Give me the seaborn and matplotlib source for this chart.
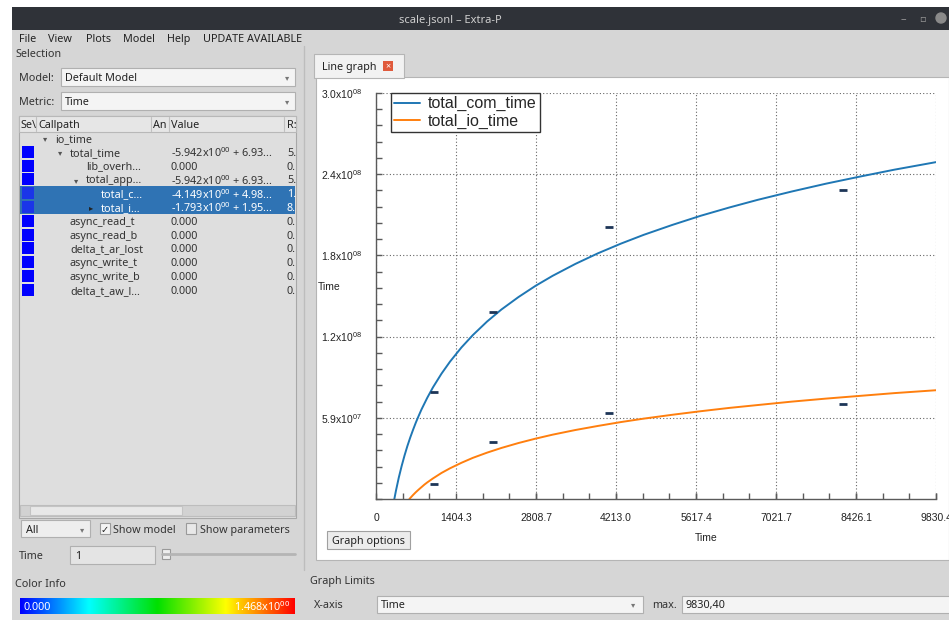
import numpy as np
import pandas as pd
import seaborn as sns
import matplotlib.pyplot as plt
from matplotlib.patches import Rectangle
from matplotlib.ticker import AutoMinorLocator
from matplotlib.colors import LinearSegmentedColormap

# model curves (time values in units of 1e6)
com_x = [322, 350, 400, 450, 500, 550, 600, 650, 700, 750, 800, 900, 1000, 1150,
         1300, 1500, 1700, 1950, 2200, 2500, 2800, 3100, 3500, 3900, 4300, 4700,
         5200, 5700, 6200, 6700, 7300, 7900, 8500, 9100, 9830.4]
com_y = [0, 6.0, 15.6, 24.0, 31.6, 38.5, 44.7, 50.4, 55.8, 60.7, 65.4, 73.8, 81.4, 91.4,
         100.2, 110.5, 119.5, 129.4, 138.1, 147.2, 155.4, 162.7, 171.4, 179.2, 186.2, 192.6,
         199.8, 206.5, 212.5, 218.1, 224.2, 229.9, 235.1, 240.1, 245.6]
io_x = [586, 650, 700, 750, 850, 900, 1000, 1150, 1300, 1500, 1700, 1950, 2200, 2500,
        2800, 3100, 3500, 3900, 4300, 4700, 5200, 5700, 6200, 6700, 7300, 7900,
        8500, 9100, 9830.4]
io_y = [0, 2.9, 5.0, 6.9, 10.5, 12.1, 15.0, 19.0, 22.4, 26.4, 30.0, 33.8, 37.2, 40.8,
        44.0, 46.9, 50.3, 53.3, 56.1, 58.6, 61.4, 64.0, 66.4, 68.5, 71.0, 73.2,
        75.2, 77.2, 79.3]

# measured points (the little dashes)
meas_x = [1024, 2048, 4096, 8192]
meas_com = [78, 136, 198, 225]
meas_io = [11, 41.5, 62.7, 69.3]

# axis ticks as the tool prints them
x_ticks = [0, 1404.3, 2808.7, 4213.0, 5617.4, 7021.7, 8426.1, 9830.4]
x_tick_labels = ['0', '1404.3', '2808.7', '4213.0', '5617.4', '7021.7', '8426.1', '9830.4']
y_max = 296e6
y_ticks = [59.2e6, 118.4e6, 177.6e6, 236.8e6, 296e6]
y_tick_labels = ['5.9x10$^{07}$', '1.2x10$^{08}$', '1.8x10$^{08}$', '2.4x10$^{08}$', '3.0x10$^{08}$']

# tree rows in the Selection panel: (indent x, name, value, last column, arrow)
tree_rows = [
    (55, 'io_time', '', '', 'down'),
    (70, 'total_time', '-5.942x10$^{00}$ + 6.93...', '5.', 'down'),
    (86, 'lib_overh...', '0.000', '0.', ''),
    (86, 'total_app...', '-5.942x10$^{00}$ + 6.93...', '5.', 'down'),
    (101, 'total_c...', '-4.149x10$^{00}$ + 4.98...', '1.', ''),
    (101, 'total_i...', '-1.793x10$^{00}$ + 1.95...', '8.', 'right'),
    (70, 'async_read_t', '0.000', '0.', ''),
    (70, 'async_read_b', '0.000', '0.', ''),
    (70, 'delta_t_ar_lost', '0.000', '0.', ''),
    (70, 'async_write_t', '0.000', '0.', ''),
    (70, 'async_write_b', '0.000', '0.', ''),
    (70, 'delta_t_aw_l...', '0.000', '0.', ''),
]

sns.set_theme(style='white')
plt.rcParams['font.family'] = ['Noto Sans', 'DejaVu Sans']
plt.rcParams['mathtext.fontset'] = 'custom'
plt.rcParams['mathtext.rm'] = 'Liberation Sans'
plt.rcParams['mathtext.default'] = 'regular'

W, H = 949, 620
fig = plt.figure(figsize=(W / 100, H / 100), dpi=100, facecolor='white')

# ---------- window chrome, drawn in pixel coordinates ----------
bg = fig.add_axes([0, 0, 1, 1])
bg.set_xlim(0, W)
bg.set_ylim(H, 0)
bg.axis('off')


def box(x0, y0, x1, y1, fc, ec='none', lw=0.8):
    bg.add_patch(Rectangle((x0, y0), x1 - x0, y1 - y0, facecolor=fc, edgecolor=ec, linewidth=lw))


def label(x, y, s, size=7.8, color='#333333', **kw):
    bg.text(x, y, s, fontsize=size, color=color, va='center_baseline', **kw)


box(12, 7, W, H, '#d6d6d6')
box(12, 7, W, 30, '#2f3238')
label(450, 19, 'scale.jsonl – Extra-P', size=8, color='#cfcfcf', ha='center')
label(903, 18, '–', size=8, color='#9a9a9a', ha='center')
label(922, 18, '▫', size=7, color='#9a9a9a', ha='center')
bg.add_patch(plt.Circle((941, 18), 5, color='#8a8a8a'))

for x, s in [(19, 'File'), (48, 'View'), (86, 'Plots'), (123, 'Model'), (167, 'Help'), (203, 'UPDATE AVAILABLE')]:
    label(x, 38, s, color='#222222')

# left Selection panel
label(16, 53, 'Selection')
label(19, 77, 'Model:')
box(61, 68, 295, 86, '#f4f4f4', '#b0b0b0')
label(65, 77, 'Default Model', color='#222222')
label(287, 77, '▾', size=6, color='#777777', ha='center')
label(19, 101, 'Metric:')
box(61, 92, 295, 110, '#f4f4f4', '#b0b0b0')
label(65, 101, 'Time', color='#222222')
label(287, 101, '▾', size=6, color='#777777', ha='center')

box(19, 116, 296, 518, '#dedede', '#a8a8a8')
box(19, 116, 296, 132, '#e6e6e6', '#b8b8b8')
for x, s in [(21, 'Se\\'), (38, 'Callpath'), (153, 'An'), (171, 'Value'), (287, 'R:')]:
    label(x, 124, s, color='#222222')
for x in [36, 151, 169, 284]:
    bg.plot([x, x], [117, 131], color='#c0c0c0', lw=0.8)

box(20, 186, 295, 214, '#2f73b4')
for i, (ind, name, val, last, arrow) in enumerate(tree_rows):
    y = 138 + i * 13.8
    sel = name in ('total_c...', 'total_i...')
    col = 'white' if sel else '#333333'
    if i > 0:
        box(22, y - 6, 34, y + 6, '#1a35e8' if sel else '#0000ff')
    if arrow == 'down':
        label(ind - 10, y, '▾', size=6, color='#555555', ha='center')
    elif arrow == 'right':
        label(ind - 10, y, '▸', size=6, color='#222222', ha='center')
    label(ind, y, name, color=col)
    label(171, y, val, color=col)
    label(287, y, last, color=col)

box(20, 505, 295, 516, '#d2d2d2', '#bdbdbd')
box(30, 506, 182, 515, '#e8e8e8', '#c4c4c4')
box(21, 520, 90, 537, '#eeeeee', '#b0b0b0')
label(26, 529, 'All', color='#222222')
label(82, 529, '▾', size=6, color='#777777', ha='center')
box(100, 523, 110, 534, '#f4f4f4', '#9a9a9a')
label(105, 529, '✓', size=7, color='#222222', ha='center', family='DejaVu Sans')
label(113, 529, 'Show model')
box(186, 523, 196, 534, '#e8e8e8', '#9a9a9a')
label(200, 529, 'Show parameters')

label(19, 555, 'Time')
box(70, 546, 155, 564, '#e4e4e4', '#b0b0b0')
label(75, 555, '1', color='#222222')
bg.plot([162, 295], [554, 554], color='#b5b5b5', lw=2)
box(162, 549, 170, 559, '#eeeeee', '#999999')

label(15, 583, 'Color Info')
grad = LinearSegmentedColormap.from_list('ci', ['#0000ff', '#00ffff', '#00e000', '#ffff00', '#ff0000'])
bg.imshow(np.linspace(0, 1, 256)[None, :], cmap=grad, aspect='auto',
          extent=(20, 295, 614, 598), zorder=2)
label(24, 606, '0.000', color='white', zorder=3)
label(290, 606, '1.468x10$^{00}$', color='white', ha='right', zorder=3)
bg.plot([304, 304], [46, 570], color='#bdbdbd', lw=1)

# right side: tab and plot widget
box(316, 77, W, 560, 'white', '#b5b5b5')
box(314, 54, 404, 78, '#f2f2f2', '#b5b5b5')
label(322, 66, 'Line graph', color='#222222')
box(383, 61, 393, 71, '#e05a3c')
label(388, 66, '×', size=6.5, color='white', ha='center')
box(327, 531, 410, 549, '#ececec', '#a0a0a0')
label(368.5, 540, 'Graph options', color='#222222', ha='center')

label(310, 580, 'Graph Limits')
label(314, 604, 'X-axis')
box(377, 596, 643, 613, '#f4f4f4', '#b0b0b0')
label(381, 604, 'Time', color='#222222')
label(633, 604, '▾', size=6, color='#777777', ha='center')
label(652, 604, 'max.')
box(682, 596, 960, 613, '#f4f4f4', '#b0b0b0')
label(686, 604, '9830,40', color='#222222')

# ---------- the line graph ----------
ax = fig.add_axes([376 / W, 1 - 499 / H, (936 - 376) / W, (499 - 93) / H])
ax.set_zorder(2)
ax.set_facecolor('white')

sns.lineplot(x=com_x, y=np.array(com_y) * 1e6, ax=ax, color='#1f77b4',
             linewidth=1.4, label='total_com_time', estimator=None, sort=False)
sns.lineplot(x=io_x, y=np.array(io_y) * 1e6, ax=ax, color='#ff7f0e',
             linewidth=1.4, label='total_io_time', estimator=None, sort=False)
ax.plot(meas_x, np.array(meas_com) * 1e6, ls='none', marker='_', ms=6, mew=2, color='#1d3557')
ax.plot(meas_x, np.array(meas_io) * 1e6, ls='none', marker='_', ms=6, mew=2, color='#1d3557')

ax.set_xlim(0, 9830.4)
ax.set_ylim(0, y_max)
ax.set_xticks(x_ticks)
ax.set_xticklabels(x_tick_labels, family='Liberation Sans')
ax.set_yticks(y_ticks)
ax.set_yticklabels(y_tick_labels, family='Liberation Sans')
ax.xaxis.set_minor_locator(AutoMinorLocator(3))
ax.yaxis.set_minor_locator(AutoMinorLocator(5))
ax.tick_params(axis='both', which='both', direction='in', length=4, width=1,
               color='#5a5a5a', labelsize=7.5, labelcolor='#222222', pad=10)
ax.tick_params(which='both', bottom=True, left=True)

ax.grid(True, which='major', linestyle=(0, (1, 2)), color='#666666', linewidth=0.8)
for side in ['top', 'right']:
    ax.spines[side].set_visible(False)
for side in ['left', 'bottom']:
    ax.spines[side].set_color('#5a5a5a')
    ax.spines[side].set_linewidth(1)

ax.set_xlabel('Time', family='Liberation Sans', fontsize=7.5, color='#222222')
ax.set_ylabel('Time', family='Liberation Sans', fontsize=7.5, color='#222222', rotation=0)
ax.xaxis.set_label_coords((706 - 376) / 560, -(533 - 499) / 406)
ax.yaxis.set_label_coords((329 - 376) / 560, (499 - 292) / 406)

leg = ax.legend(loc='upper left', bbox_to_anchor=(0.027, 1.0), borderaxespad=0,
                frameon=True, fancybox=False, framealpha=1, edgecolor='#333333',
                prop={'family': 'Liberation Sans', 'size': 11.5},
                handlelength=1.6, handletextpad=0.5, labelspacing=0.15, borderpad=0.2)
leg.get_frame().set_linewidth(1)

fig.savefig('out.png', dpi=100, facecolor='white')
